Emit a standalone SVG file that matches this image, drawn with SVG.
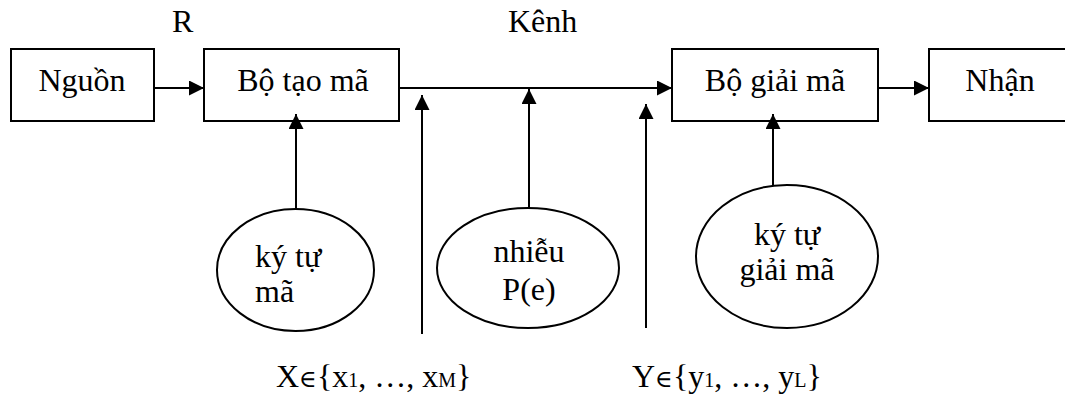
<svg xmlns="http://www.w3.org/2000/svg" width="1065" height="403" viewBox="0 0 1065 403">
  <style>
    .box { fill: #fff; stroke: #000; stroke-width: 2; }
    .ell { fill: #fff; stroke: #000; stroke-width: 2; }
    .conn line { stroke: #000; stroke-width: 2; marker-end: url(#arr); }
    .sub { font-size: 20px; }
    .el { font-size: 24px; }
  </style>
  <defs>
    <marker id="arr" viewBox="0 0 15 15" refX="15" refY="7.5" markerWidth="15" markerHeight="15" markerUnits="userSpaceOnUse" orient="auto">
      <path d="M0,0 L15,7.5 L0,15 z" fill="#000"/>
    </marker>
  </defs>
  <rect width="1065" height="403" fill="#fff"/>

  <g font-family="Liberation Serif, Times New Roman, DejaVu Serif, serif" font-size="32" fill="#000">
  <g id="label-R"><text x="172" y="32">R</text></g>
  <g id="label-kenh"><text x="508" y="32">Kênh</text></g>

  <g id="nguon">
    <rect class="box" x="11" y="49" width="143" height="72"/>
    <text x="82" y="91" text-anchor="middle">Nguồn</text>
  </g>
  <g id="bo-tao-ma">
    <rect class="box" x="204" y="49" width="195" height="72"/>
    <text x="303" y="91" text-anchor="middle">Bộ tạo mã</text>
  </g>
  <g id="bo-giai-ma">
    <rect class="box" x="672" y="49" width="206" height="72"/>
    <text x="775" y="91" text-anchor="middle">Bộ giải mã</text>
  </g>
  <g id="nhan">
    <rect class="box" x="929" y="49" width="145" height="72"/>
    <text x="1000" y="91" text-anchor="middle">Nhận</text>
  </g>

  <g id="ky-tu-ma">
    <ellipse class="ell" cx="295.5" cy="270" rx="78.5" ry="61"/>
    <text x="255" y="267">ký tự</text>
    <text x="255" y="302">mã</text>
  </g>
  <g id="nhieu">
    <ellipse class="ell" cx="528" cy="268" rx="91" ry="60"/>
    <text x="529" y="262" text-anchor="middle">nhiễu</text>
    <text x="529" y="300" text-anchor="middle">P(e)</text>
  </g>
  <g id="ky-tu-giai-ma">
    <ellipse class="ell" cx="787" cy="256.5" rx="91" ry="71.5"/>
    <text x="787" y="245" text-anchor="middle">ký tự</text>
    <text x="787" y="280" text-anchor="middle">giải mã</text>
  </g>

  <g id="label-X"><text x="276" y="387">X<tspan class="el">∈</tspan>{x<tspan class="sub">1</tspan>, …, x<tspan class="sub">M</tspan>}</text></g>
  <g id="label-Y"><text x="632" y="387">Y<tspan class="el">∈</tspan>{y<tspan class="sub">1</tspan>, …, y<tspan class="sub">L</tspan>}</text></g>
  </g>

  <g id="connectors" class="conn">
    <line x1="154" y1="88" x2="204" y2="88"/>
    <line x1="399" y1="88" x2="672" y2="88"/>
    <line x1="878" y1="88" x2="929" y2="88"/>
    <line x1="296" y1="209" x2="296" y2="114"/>
    <line x1="529" y1="208" x2="529" y2="89"/>
    <line x1="422" y1="334" x2="422" y2="95"/>
    <line x1="646" y1="328" x2="646" y2="104"/>
    <line x1="773" y1="185" x2="773" y2="114"/>
  </g>
</svg>
